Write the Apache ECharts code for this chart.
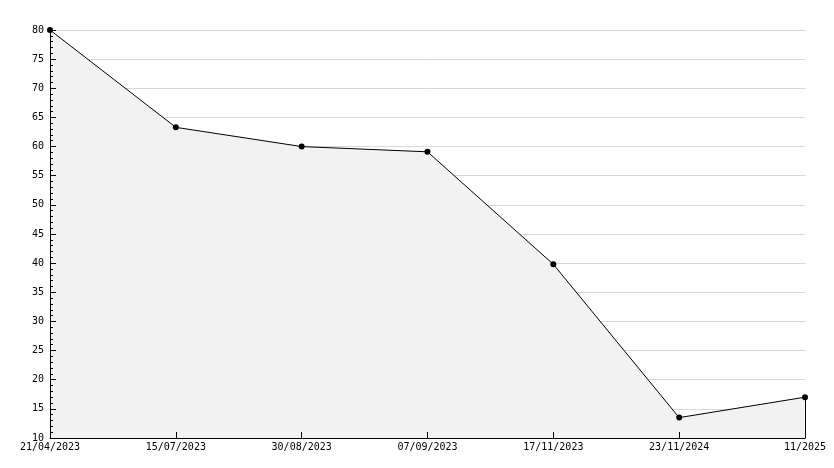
<!DOCTYPE html>
<html>
<head>
<meta charset="utf-8">
<script src="https://cdn.jsdelivr.net/npm/echarts@6/dist/echarts.min.js"></script>
<style>
  html, body { margin: 0; padding: 0; background: #fff; }
  #chart { width: 834px; height: 468px; }
</style>
</head>
<body>
<div id="chart"></div>
<script>
// dates on the x axis
const dates = ['21/04/2023', '15/07/2023', '30/08/2023', '07/09/2023', '17/11/2023', '23/11/2024', '11/2025']
// values
const values = [80, 63.3, 60, 59.1, 39.8, 13.5, 17]
const yMin = 10
const yMax = 80
const yStep = 5

const font = 'DejaVu Sans Mono'
const chart = echarts.init(document.getElementById('chart'))

const option = {
  animation: false,
  grid: { left: 50, right: 29, top: 30, bottom: 30 },
  xAxis: {
    type: 'category',
    data: dates,
    boundaryGap: false,
    z: 10,
    axisLine: { lineStyle: { color: '#000', width: 1 } },
    axisTick: { show: true, inside: true, length: 6, interval: 0, lineStyle: { color: '#000' } },
    axisLabel: { color: '#000', fontFamily: font, fontSize: 10, margin: 4, showMaxLabel: true, showMinLabel: true, interval: 0 },
    splitLine: { show: false }
  },
  yAxis: [
    {
      // gridlines only, behind the area
      type: 'value',
      min: yMin,
      max: yMax,
      interval: yStep,
      z: 0,
      axisLine: { show: false },
      axisTick: { show: false },
      axisLabel: { show: false },
      splitLine: { show: true, lineStyle: { color: '#d9d9d9', width: 1 } }
    },
    {
      // axis line, ticks and labels, above the area
      type: 'value',
      position: 'left',
      min: yMin,
      max: yMax,
      interval: yStep,
      z: 10,
      axisLine: { show: true, lineStyle: { color: '#000', width: 1 } },
      axisTick: { show: true, inside: true, length: 6, lineStyle: { color: '#000' } },
      minorTick: { show: true, splitNumber: 5, length: 3, lineStyle: { color: '#000' } },
      axisLabel: { color: '#000', fontFamily: font, fontSize: 10, margin: 6 },
      splitLine: { show: false }
    }
  ],
  series: [{
    type: 'line',
    data: values,
    yAxisIndex: 0,
    z: 2,
    symbol: 'circle',
    symbolSize: 6,
    itemStyle: { color: '#000' },
    lineStyle: { color: '#000', width: 1 },
    areaStyle: { color: '#f2f2f2', opacity: 1 },
    markLine: {
      silent: true,
      symbol: 'none',
      label: { show: false },
      lineStyle: { color: '#000', width: 1, type: 'solid' },
      data: [[{ coord: [dates.length - 1, values[values.length - 1]] }, { coord: [dates.length - 1, yMin] }]]
    }
  }]
}
chart.setOption(option)
</script>
</body>
</html>
